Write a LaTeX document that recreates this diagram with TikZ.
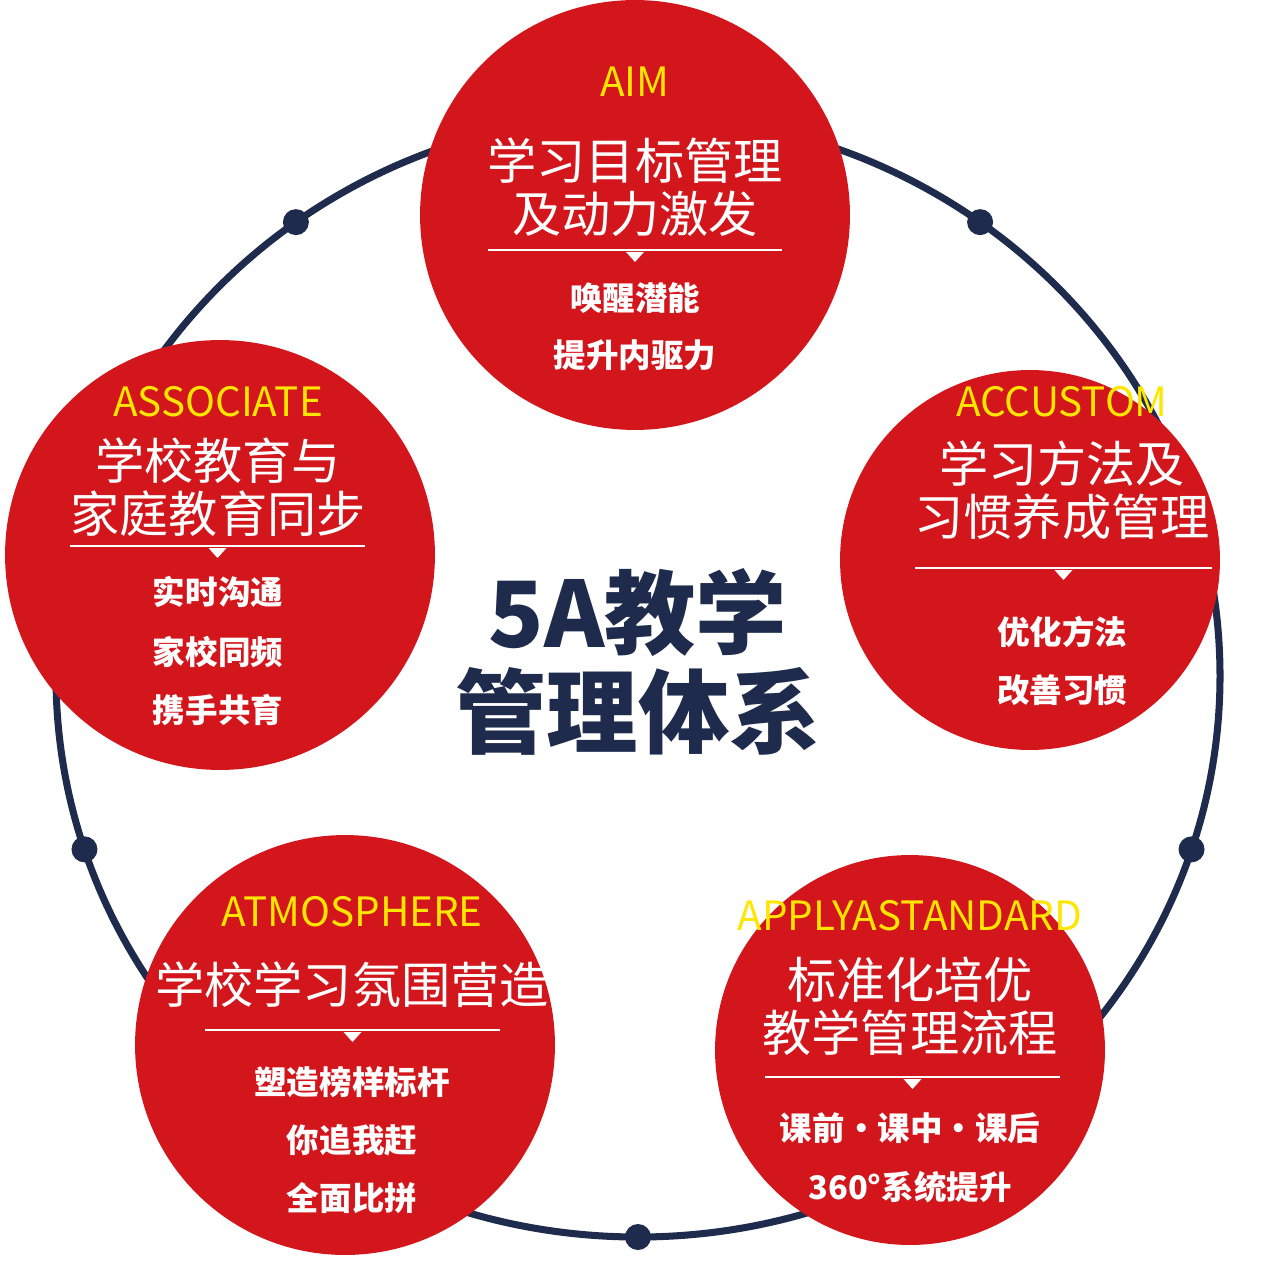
\documentclass[tikz,border=0pt]{standalone}
\usepackage{fontspec}
\setmainfont{Noto Sans CJK SC}
\definecolor{cred}{HTML}{D3151C}
\definecolor{cnavy}{HTML}{1F2B4D}
\definecolor{cyel}{HTML}{FFE600}
\tikzset{
  bubble/.style={circle,fill=cred,draw=none,minimum size=#1},
  eng/.style={text=cyel,font=\fontsize{23}{26}\selectfont},
  head/.style={text=white,font=\fontsize{28}{34}\selectfont,align=center},
  item/.style={text=white,font=\fontsize{18.5}{22}\selectfont\bfseries},
  dot/.style={circle,fill=cnavy,minimum size=0.52cm,inner sep=0pt},
  sep/.style={draw=white,line width=0.8pt}
}
\newcommand{\sepline}[3]{% x1, x2, y
  \draw[sep] (#1,#3) -- (#2,#3);
  \fill[white] ({(#1+#2)/2-9},#3+2) -- ({(#1+#2)/2+9},#3+2) -- ({(#1+#2)/2},#3+12) -- cycle;}
\begin{document}
\begin{tikzpicture}[x=0.02cm,y=-0.02cm]
\useasboundingbox (0,0) rectangle (1280,1260);
% ring
\coordinate (c) at (638,676);
\draw[cnavy,line width=4pt] (c) ellipse [x radius=582,y radius=561];
\foreach \a/\n in {126/tl,54/tr,-18/r,-90/b,-162/l}
  \node[dot] (d\n) at ([shift={({582*cos(\a)},{-561*sin(\a)})}]c) {};
% bubbles
\node[bubble=8.6cm] (aim) at (635,215) {};
\node[bubble=7.6cm] (acc) at (1030,560) {};
\node[bubble=8.6cm] (ass) at (220,555) {};
\node[bubble=8.4cm] (atm) at (345,1045) {};
\node[bubble=7.8cm] (app) at (910,1050) {};
% top
\node[eng] (aimE) at (635,82) {AIM};
\node[head] (aimH) at (635,187) {学习目标管理\\[-4pt]及动力激发};
\sepline{488}{782}{250}
\node[item] (aim1) at (635,298) {唤醒潜能};
\node[item] (aim2) at (635,355) {提升内驱力};
% right
\node[eng] (accE) at (1062,402) {ACCUSTOM};
\node[head] (accH) at (1062,490) {学习方法及\\[-4pt]习惯养成管理};
\sepline{915}{1212}{568}
\node[item] (acc1) at (1062,632) {优化方法};
\node[item] (acc2) at (1062,690) {改善习惯};
% left
\node[eng] (assE) at (218,402) {ASSOCIATE};
\node[head] (assH) at (218,487) {学校教育与\\[-4pt]家庭教育同步};
\sepline{70}{365}{546}
\node[item] (ass1) at (218,592) {实时沟通};
\node[item] (ass2) at (218,652) {家校同频};
\node[item] (ass3) at (218,710) {携手共育};
% bottom left
\node[eng] (atmE) at (352,912) {ATMOSPHERE};
\node[head] (atmH) at (352,985) {学校学习氛围营造};
\sepline{205}{500}{1030}
\node[item] (atm1) at (352,1082) {塑造榜样标杆};
\node[item] (atm2) at (352,1140) {你追我赶};
\node[item] (atm3) at (352,1198) {全面比拼};
% bottom right
\node[eng] (appE) at (910,916) {APPLYASTANDARD};
\node[head] (appH) at (910,1006) {标准化培优\\[-4pt]教学管理流程};
\sepline{765}{1060}{1077}
\node[item] (app1) at (910,1128) {课前·课中·课后};
\node[item] (app2) at (910,1187) {360°系统提升};
% centre
\node[text=cnavy,font=\fontsize{52}{62}\selectfont\bfseries,align=center] (title) at (638,662) {5A教学\\[-6pt]管理体系};
\end{tikzpicture}
\end{document}
